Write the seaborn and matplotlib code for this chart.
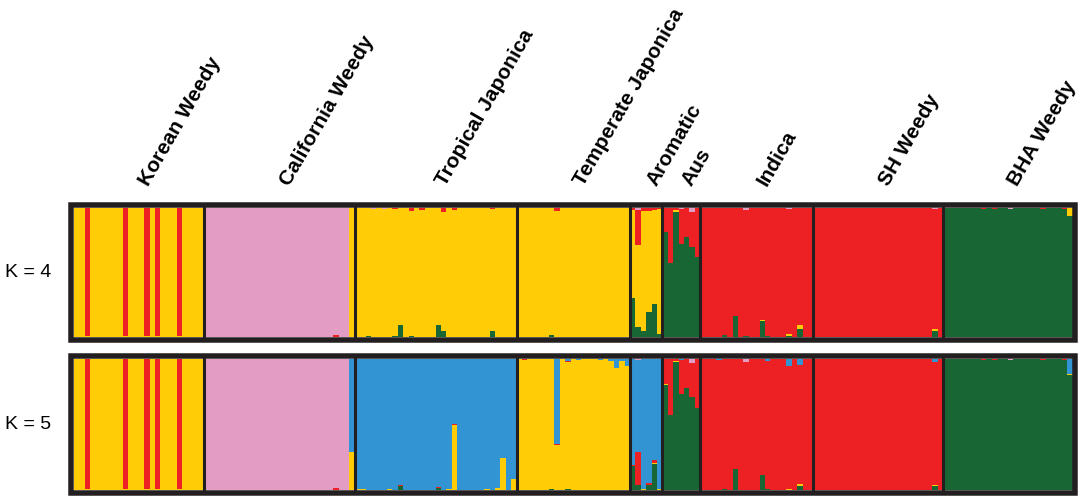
import numpy as np
import pandas as pd
import matplotlib
matplotlib.use("Agg")
import matplotlib.pyplot as plt
from matplotlib.patches import Rectangle
from matplotlib.transforms import offset_copy
import seaborn as sns

groups = ["Korean Weedy", "California Weedy", "Tropical Japonica", "Temperate Japonica",
          "Aromatic", "Aus", "Indica", "SH Weedy", "BHA Weedy"]
group_sizes = [24, 28, 30, 21, 6, 7, 21, 24, 24]

# cluster that each group mostly belongs to
k4_main = ["yellow", "pink", "yellow", "yellow", "yellow", "green", "red", "red", "green"]
k5_main = ["yellow", "pink", "blue", "yellow", "blue", "green", "red", "red", "green"]

# admixed individuals: (group, index in group, cluster, ancestry fraction)
k4_admixed = [
    ("Korean Weedy", 2, "red", 0.99), ("Korean Weedy", 9, "red", 0.99),
    ("Korean Weedy", 13, "red", 0.99), ("Korean Weedy", 15, "red", 0.99),
    ("Korean Weedy", 19, "red", 0.99),
    ("California Weedy", 24, "red", 0.015), ("California Weedy", 27, "yellow", 1.0),
    ("Tropical Japonica", 2, "green", 0.01), ("Tropical Japonica", 3, "pink", 0.008),
    ("Tropical Japonica", 5, "pink", 0.008),
    ("Tropical Japonica", 7, "green", 0.01), ("Tropical Japonica", 7, "red", 0.01),
    ("Tropical Japonica", 8, "green", 0.095),
    ("Tropical Japonica", 10, "green", 0.01), ("Tropical Japonica", 10, "red", 0.023),
    ("Tropical Japonica", 12, "red", 0.02),
    ("Tropical Japonica", 15, "green", 0.09),
    ("Tropical Japonica", 16, "green", 0.05), ("Tropical Japonica", 16, "red", 0.035),
    ("Tropical Japonica", 18, "red", 0.015),
    ("Tropical Japonica", 25, "green", 0.045), ("Tropical Japonica", 25, "red", 0.01),
    ("Temperate Japonica", 6, "green", 0.015), ("Temperate Japonica", 7, "red", 0.025),
    ("Aromatic", 0, "green", 0.30), ("Aromatic", 0, "red", 0.02),
    ("Aromatic", 1, "green", 0.075), ("Aromatic", 1, "red", 0.265), ("Aromatic", 1, "pink", 0.02),
    ("Aromatic", 2, "green", 0.05), ("Aromatic", 2, "red", 0.025),
    ("Aromatic", 3, "green", 0.19), ("Aromatic", 3, "red", 0.025),
    ("Aromatic", 4, "green", 0.255), ("Aromatic", 4, "red", 0.015),
    ("Aromatic", 5, "green", 0.02), ("Aromatic", 5, "red", 0.01),
    ("Aus", 0, "red", 0.19),
    ("Aus", 1, "red", 0.43),
    ("Aus", 2, "yellow", 0.01), ("Aus", 2, "red", 0.02),
    ("Aus", 3, "red", 0.27), ("Aus", 3, "pink", 0.01),
    ("Aus", 4, "red", 0.225),
    ("Aus", 5, "red", 0.27), ("Aus", 5, "pink", 0.03),
    ("Aus", 6, "red", 0.38),
    ("Indica", 4, "green", 0.015),
    ("Indica", 6, "green", 0.16),
    ("Indica", 8, "green", 0.01), ("Indica", 8, "pink", 0.02),
    ("Indica", 11, "green", 0.125), ("Indica", 11, "yellow", 0.008),
    ("Indica", 12, "green", 0.01),
    ("Indica", 16, "green", 0.005), ("Indica", 16, "yellow", 0.02), ("Indica", 16, "pink", 0.01),
    ("Indica", 18, "green", 0.06), ("Indica", 18, "yellow", 0.035),
    ("SH Weedy", 22, "green", 0.05), ("SH Weedy", 22, "yellow", 0.015), ("SH Weedy", 22, "pink", 0.01),
    ("BHA Weedy", 7, "red", 0.01), ("BHA Weedy", 9, "red", 0.01),
    ("BHA Weedy", 12, "pink", 0.01), ("BHA Weedy", 18, "red", 0.01),
    ("BHA Weedy", 22, "red", 0.01),
    ("BHA Weedy", 23, "yellow", 0.055), ("BHA Weedy", 23, "red", 0.005),
]

k5_admixed = [
    ("Korean Weedy", 2, "red", 0.99), ("Korean Weedy", 9, "red", 0.99),
    ("Korean Weedy", 13, "red", 0.99), ("Korean Weedy", 15, "red", 0.99),
    ("Korean Weedy", 19, "red", 0.99),
    ("California Weedy", 24, "red", 0.015),
    ("California Weedy", 27, "yellow", 0.29), ("California Weedy", 27, "blue", 0.71),
    ("Tropical Japonica", 0, "yellow", 0.01), ("Tropical Japonica", 1, "yellow", 0.01),
    ("Tropical Japonica", 6, "yellow", 0.01),
    ("Tropical Japonica", 8, "green", 0.035), ("Tropical Japonica", 8, "red", 0.01),
    ("Tropical Japonica", 15, "green", 0.02), ("Tropical Japonica", 15, "red", 0.008),
    ("Tropical Japonica", 17, "yellow", 0.012),
    ("Tropical Japonica", 18, "yellow", 0.50), ("Tropical Japonica", 18, "red", 0.008),
    ("Tropical Japonica", 24, "yellow", 0.01),
    ("Tropical Japonica", 26, "yellow", 0.015),
    ("Tropical Japonica", 27, "yellow", 0.25),
    ("Tropical Japonica", 29, "yellow", 0.09),
    ("Temperate Japonica", 1, "red", 0.005),
    ("Temperate Japonica", 6, "green", 0.01),
    ("Temperate Japonica", 7, "blue", 0.65), ("Temperate Japonica", 7, "red", 0.005),
    ("Temperate Japonica", 9, "blue", 0.013), ("Temperate Japonica", 9, "red", 0.008),
    ("Temperate Japonica", 9, "green", 0.01),
    ("Temperate Japonica", 11, "blue", 0.01),
    ("Temperate Japonica", 15, "blue", 0.008),
    ("Temperate Japonica", 17, "blue", 0.015),
    ("Temperate Japonica", 18, "blue", 0.07),
    ("Temperate Japonica", 19, "blue", 0.015),
    ("Temperate Japonica", 20, "blue", 0.05), ("Temperate Japonica", 20, "red", 0.005),
    ("Aromatic", 0, "green", 0.185), ("Aromatic", 0, "red", 0.012),
    ("Aromatic", 1, "green", 0.04), ("Aromatic", 1, "red", 0.25), ("Aromatic", 1, "pink", 0.005),
    ("Aromatic", 2, "yellow", 0.008),
    ("Aromatic", 3, "green", 0.045), ("Aromatic", 3, "red", 0.008),
    ("Aromatic", 4, "green", 0.20), ("Aromatic", 4, "yellow", 0.012), ("Aromatic", 4, "red", 0.02),
    ("Aromatic", 5, "yellow", 0.008),
    ("Aus", 0, "yellow", 0.008), ("Aus", 0, "red", 0.19),
    ("Aus", 1, "red", 0.425),
    ("Aus", 2, "yellow", 0.01), ("Aus", 2, "red", 0.015),
    ("Aus", 3, "red", 0.26), ("Aus", 3, "blue", 0.008),
    ("Aus", 4, "red", 0.22),
    ("Aus", 5, "red", 0.255), ("Aus", 5, "pink", 0.033),
    ("Aus", 6, "red", 0.37),
    ("Indica", 3, "blue", 0.008),
    ("Indica", 4, "green", 0.01),
    ("Indica", 6, "green", 0.16), ("Indica", 6, "yellow", 0.005),
    ("Indica", 8, "pink", 0.02),
    ("Indica", 11, "green", 0.12),
    ("Indica", 12, "blue", 0.015), ("Indica", 12, "green", 0.008),
    ("Indica", 16, "blue", 0.05), ("Indica", 16, "yellow", 0.008),
    ("Indica", 18, "blue", 0.045), ("Indica", 18, "green", 0.033), ("Indica", 18, "yellow", 0.013),
    ("SH Weedy", 22, "blue", 0.025), ("SH Weedy", 22, "green", 0.033), ("SH Weedy", 22, "yellow", 0.012),
    ("BHA Weedy", 7, "red", 0.008), ("BHA Weedy", 9, "red", 0.008),
    ("BHA Weedy", 12, "pink", 0.008), ("BHA Weedy", 18, "red", 0.008),
    ("BHA Weedy", 22, "red", 0.008),
    ("BHA Weedy", 23, "blue", 0.115), ("BHA Weedy", 23, "yellow", 0.01),
]

cluster_colors = {"green": "#186634", "yellow": "#FFCC06", "red": "#ED2024",
                  "blue": "#3294D2", "pink": "#E39DC5"}
# listed bottom to top within each bar
k4_clusters = ["green", "yellow", "red", "pink"]
k5_clusters = ["green", "yellow", "red", "blue", "pink"]
frame_color = "#231f20"


def ancestry_table(main, admixed, clusters):
    starts = np.cumsum([0] + group_sizes[:-1])
    col = {c: i for i, c in enumerate(clusters)}
    q = np.zeros((sum(group_sizes), len(clusters)))
    for g, i, c, v in admixed:
        q[starts[groups.index(g)] + i, col[c]] += v
    for gi, m in enumerate(main):
        rows = slice(starts[gi], starts[gi] + group_sizes[gi])
        q[rows, col[m]] = 1 - q[rows].sum(axis=1)
    df = pd.DataFrame(q, columns=clusters)
    df["ind"] = np.arange(len(df))
    return df.melt(id_vars="ind", var_name="cluster", value_name="q")


sns.set_style("white")
plt.rcParams["font.family"] = ["Liberation Sans", "DejaVu Sans"]
plt.rcParams["text.color"] = "black"

fig = plt.figure(figsize=(10.84, 5), dpi=100)
W, H = 1084, 500
n_ind = sum(group_sizes)
bounds = np.cumsum(group_sizes)[:-1] - 0.5
centers = np.cumsum(group_sizes) - np.array(group_sizes) / 2 - 0.5

# frame centre-lines in pixels: (left, top, right, bottom)
panels = [(71.3, 205.0, 1075.3, 339.8), (71.3, 356.2, 1075.3, 493.2)]
frame_px = 5.5

axes = []
for (l, t, r, b) in panels:
    ax = fig.add_axes([l / W, (H - b) / H, (r - l) / W, (b - t) / H])
    axes.append(ax)

for ax, (l, t, r, b), main, adm, cl, lab in zip(
        axes, panels, [k4_main, k5_main], [k4_admixed, k5_admixed],
        [k4_clusters, k5_clusters], ["K = 4", "K = 5"]):
    d = ancestry_table(main, adm, cl)
    # seaborn puts the first hue level on top of the stack
    sns.histplot(data=d, x="ind", weights="q", hue="cluster", hue_order=cl[::-1],
                 multiple="stack", discrete=True, shrink=1, palette=cluster_colors,
                 alpha=1, linewidth=0, legend=False, ax=ax)
    half = frame_px / 2
    px_w = r - l - frame_px
    px_h = b - t - frame_px
    padx = n_ind * half / px_w
    pady = half / px_h
    ax.set_xlim(-0.5 - padx, n_ind - 0.5 + padx)
    ax.set_ylim(-pady, 1 + pady)
    for x in bounds:
        ax.axvline(x, color=frame_color, lw=2.2, zorder=5)
    ax.set_xticks([])
    ax.set_yticks([])
    ax.set_xlabel("")
    ax.set_ylabel("")
    for s in ax.spines.values():
        s.set_visible(False)
    ax.add_patch(Rectangle((0, 0), 1, 1, transform=ax.transAxes, fill=False,
                           edgecolor=frame_color, lw=frame_px * 0.72,
                           joinstyle="miter", clip_on=False, zorder=6))
    fig.text(5 / W, (H - (t + b) / 2) / H, lab, ha="left", va="center",
             fontsize=14, color="black")

top_ax = axes[0]
label_y = 1 + (205.0 - 187.0) / (339.8 - 205.0)
label_tr = offset_copy(top_ax.get_xaxis_transform(), fig=fig, x=10, y=0, units="dots")
for name, c in zip(groups, centers):
    top_ax.text(c, label_y, name, transform=label_tr,
                rotation=60, rotation_mode="anchor", ha="left", va="baseline",
                fontsize=15, fontweight="bold", color="black")

fig.savefig("out.png", dpi=100)
